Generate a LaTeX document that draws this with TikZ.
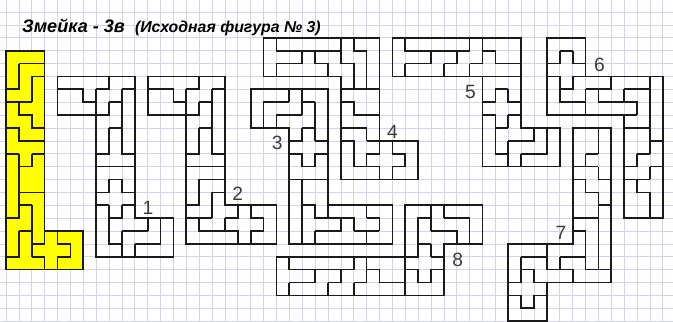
\documentclass[tikz,border=0pt]{standalone}
\usepackage{fontspec}
\setmainfont{Liberation Sans}
\usepackage{xcolor}
\usepackage{tikz}
\definecolor{gridc}{HTML}{D4D4E2}
\definecolor{snakeYellow}{HTML}{FFFF00}
\definecolor{ink}{HTML}{1A1A1A}

\begin{document}
\begin{tikzpicture}[x=4mm,y=-4mm,
  gridline/.style={gridc,line width=0.6pt},
  figline/.style={ink,line width=1.5pt,line join=miter},
  numlabel/.style={text=ink!85,font=\fontsize{17}{17}\selectfont,inner sep=0pt}]
% paper
\useasboundingbox[fill=white] (-0.466,-3.936) rectangle (51.79,21.06);
\foreach \i in {0,...,51} \draw[gridline] (\i,-3.936) -- (\i,21.06);
\foreach \j in {-3,...,21} \draw[gridline] (-0.466,\j) -- (51.79,\j);
% title
\node[anchor=base west,inner sep=0pt,font=\bfseries\itshape\fontsize{16}{16}\selectfont] (title) at (1.24,-1.41) {Змейка - 3в};
\node[anchor=base west,inner sep=0pt,font=\bfseries\itshape\fontsize{14}{14}\selectfont] (subtitle) at (10.0,-1.41) {(Исходная фигура № 3)};
% source figure
\draw[figline,fill=snakeYellow] (0,0) -- (3,0) -- (3,14) -- (6,14) -- (6,17) -- (0,17) -- cycle;
\draw[figline] (1,1) -- (3,1) (1,1) -- (1,3) -- (0,3) (2,2) -- (3,2) (2,2) -- (2,4) (0,4) -- (2,4)
  (1,4) -- (1,5) -- (2,5) -- (2,6) -- (3,6) (0,6) -- (1,6) -- (1,7) -- (3,7)
  (0,8) -- (1,8) (2,8) -- (3,8) (2,8) -- (2,9) -- (1,9) (1,8) -- (1,13) -- (0,13)
  (1,11) -- (3,11) (1,12) -- (2,12) (2,12) -- (2,16) (1,14) -- (2,14) (1,14) -- (1,16) -- (0,16)
  (3,14) -- (3,15) -- (2,15) (2,16) -- (3,16) -- (3,17) (4,14) -- (4,15) -- (5,15) -- (5,16) -- (4,16) -- (4,17);
% figure 1
\draw[figline] (4,2) -- (10,2) -- (10,13) -- (13,13) -- (13,16) -- (7,16) -- (7,5) -- (4,5) -- cycle;
\draw[figline] (4,3) -- (6,3) -- (6,4) -- (7,4) (7,3) -- (7,5) (7,3) -- (8,3) -- (8,2)
  (9,3) -- (10,3) (9,3) -- (9,8) -- (10,8) (8,4) -- (9,4) (8,4) -- (8,5) -- (7,5)
  (8,6) -- (9,6) (8,6) -- (8,8) -- (7,8) (7,9) -- (10,9)
  (8,10) -- (9,10) (8,10) -- (8,11) -- (7,11) (9,10) -- (9,11) -- (10,11)
  (7,12) -- (8,12) (9,12) -- (10,12) (8,12) -- (8,15) -- (9,15) (9,12) -- (9,13) -- (8,13)
  (9,14) -- (11,14) (11,13) -- (11,14) (9,14) -- (9,16) (10,15) -- (12,15) (10,15) -- (10,16) (12,13) -- (12,15);
% figure 2
\draw[figline] (11,2) -- (17,2) -- (17,12) -- (21,12) -- (21,15) -- (14,15) -- (14,5) -- (11,5) -- cycle;
\draw[figline] (11,3) -- (13,3) -- (13,4) -- (14,4) (14,3) -- (14,5) (14,3) -- (15,3) -- (15,2)
  (16,3) -- (17,3) (16,3) -- (16,8) -- (17,8) (15,4) -- (16,4) (15,4) -- (15,5) -- (14,5)
  (15,6) -- (16,6) (15,6) -- (15,8) -- (14,8) (14,9) -- (17,9)
  (15,10) -- (17,10) (15,10) -- (15,12) -- (14,12)
  (16,11) -- (17,11) (16,11) -- (16,13) (14,13) -- (16,13)
  (15,13) -- (15,14) -- (18,14) -- (18,15) (17,13) -- (17,14) (17,13) -- (18,13) -- (18,12)
  (19,12) -- (19,13) -- (20,13) -- (20,14) -- (19,14) -- (19,15);
% figure 3
\draw[figline] (19,3) -- (25,3) -- (25,12) -- (30,12) -- (30,15) -- (22,15) -- (22,6) -- (19,6) -- cycle;
\draw[figline] (20,6) -- (20,4) -- (22,4) (22,3) -- (22,4) (23,3) -- (23,5) (21,6) -- (21,5) -- (23,5)
  (23,4) -- (24,4) (24,4) -- (24,7) (23,6) -- (24,6) (23,6) -- (23,7) -- (22,7) (24,7) -- (25,7)
  (22,8) -- (23,8) -- (23,9) -- (24,9) -- (24,8) -- (25,8) (22,10) -- (25,10)
  (23,10) -- (23,15) (23,12) -- (24,12) -- (24,13) -- (27,13) -- (27,14) (28,13) -- (29,13) -- (29,14)
  (25,12) -- (25,13) (24,14) -- (26,14) -- (26,13) (27,14) -- (29,14) (28,12) -- (28,13)
  (28,14) -- (28,15) (24,14) -- (24,15);
% figure 4
\draw[figline] (20,-1) -- (29,-1) -- (29,7) -- (32,7) -- (32,10) -- (26,10) -- (26,2) -- (20,2) -- cycle;
\draw[figline] (21,-1) -- (21,0) -- (26,0) -- (26,-1) (21,1) -- (21,2) (21,1) -- (23,1) (23,0) -- (23,1)
  (24,0) -- (24,1) -- (25,1) -- (25,2) (26,0) -- (26,1) -- (27,1) -- (27,3)
  (27,-1) -- (27,0) -- (28,0) -- (28,3) (26,3) -- (29,3) (26,4) -- (27,4) -- (27,5) -- (29,5)
  (26,6) -- (28,6) -- (28,7) (26,7) -- (27,7) -- (27,9) -- (29,9) -- (29,10) (28,7) -- (29,7) -- (29,8) -- (28,8) -- (28,9)
  (30,7) -- (30,8) -- (31,8) -- (31,9) -- (30,9) -- (30,10);
% figure 5
\draw[figline] (30,-1) -- (40,-1) -- (40,6) -- (43,6) -- (43,9) -- (37,9) -- (37,2) -- (30,2) -- cycle;
\draw[figline] (31,-1) -- (31,0) -- (36,0) -- (36,-1) (31,1) -- (31,2) (31,1) -- (33,1) (33,0) -- (33,1)
  (34,1) -- (34,2) (34,1) -- (35,1) (35,0) -- (35,1) (36,1) -- (36,2) (36,1) -- (37,1) (37,-1) -- (37,1)
  (37,0) -- (38,0) -- (38,1) -- (40,1) (37,2) -- (40,2)
  (38,3) -- (39,3) (38,3) -- (38,4) -- (37,4) (39,3) -- (39,4) -- (40,4)
  (37,5) -- (38,5) -- (38,6) -- (39,6) (39,5) -- (39,6) (39,5) -- (40,5)
  (38,6) -- (38,8) -- (39,8) (39,7) -- (39,9) (39,7) -- (41,7) -- (41,6) (40,8) -- (40,9)
  (40,8) -- (42,8) -- (42,6);
% figure 6
\draw[figline] (42,-1) -- (45,-1) -- (45,2) -- (51,2) -- (51,13) -- (48,13) -- (48,5) -- (42,5) -- cycle;
\draw[figline] (43,0) -- (44,0) (43,0) -- (43,1) -- (42,1) (44,0) -- (44,1) -- (45,1)
  (42,2) -- (43,2) -- (43,4) -- (45,4) -- (45,5) (44,2) -- (45,2) (44,2) -- (44,3) -- (43,3)
  (45,3) -- (47,3) -- (47,2) (45,3) -- (45,4) (46,3) -- (46,4) (46,4) -- (49,4) -- (49,5)
  (48,3) -- (48,4) (48,3) -- (50,3) (50,2) -- (50,8) (50,7) -- (51,7) (48,5) -- (49,5) (48,6) -- (50,6)
  (49,8) -- (50,8) (49,8) -- (49,9) -- (48,9) (50,9) -- (51,9) (50,9) -- (50,10) (48,10) -- (50,10)
  (49,10) -- (49,11) -- (50,11) (50,11) -- (50,13);
% figure 7
\draw[figline] (44,6) -- (47,6) -- (47,18) -- (42,18) -- (42,21) -- (39,21) -- (39,15) -- (44,15) -- cycle;
\draw[figline] (40,16) -- (40,18) -- (39,18) (40,16) -- (42,16) -- (42,15) (40,17) -- (41,17) -- (41,18) -- (42,18)
  (39,19) -- (40,19) -- (40,20) -- (41,20) -- (41,19) -- (42,19)
  (42,16) -- (42,17) -- (44,17) -- (44,18) (43,16) -- (43,17) (43,16) -- (45,16)
  (45,14) -- (45,17) (44,14) -- (45,14) (45,17) -- (47,17) (46,11) -- (46,17) (46,12) -- (47,12)
  (44,13) -- (46,13) (45,10) -- (45,11) -- (46,11) (44,10) -- (45,10)
  (46,9) -- (46,10) -- (47,10) (44,9) -- (46,9) (45,8) -- (45,9) (45,8) -- (46,8) (46,6) -- (46,8);
% figure 8
\draw[figline] (21,16) -- (31,16) -- (31,12) -- (37,12) -- (37,15) -- (34,15) -- (34,19) -- (21,19) -- cycle;
\draw[figline] (22,16) -- (22,17) -- (27,17) -- (27,16) (22,18) -- (22,19) (22,18) -- (24,18) (24,17) -- (24,18)
  (25,18) -- (25,19) (25,18) -- (26,18) (26,17) -- (26,18) (27,18) -- (27,19) (27,18) -- (28,18)
  (28,16) -- (28,18) (28,17) -- (29,17) -- (29,18) -- (31,18) (31,16) -- (31,19)
  (32,18) -- (33,18) (32,18) -- (32,17) -- (31,17) (33,18) -- (33,17) -- (34,17)
  (31,16) -- (32,16) -- (32,15) -- (33,15) (33,16) -- (33,15) (33,16) -- (34,16)
  (32,15) -- (32,13) -- (33,13) (33,14) -- (33,12) (33,14) -- (35,14) -- (35,15)
  (34,13) -- (34,12) (34,13) -- (36,13) -- (36,15);
% numbers
\node[numlabel] (n1) at (11.02,12.22) {1};
\node[numlabel] (n2) at (18.0,11.1) {2};
\node[numlabel] (n3) at (21.06,7.19) {3};
\node[numlabel] (n4) at (30.0,6.31) {4};
\node[numlabel] (n5) at (36.06,3.18) {5};
\node[numlabel] (n6) at (46.08,1.11) {6};
\node[numlabel] (n7) at (43.09,14.15) {7};
\node[numlabel] (n8) at (35.08,16.27) {8};
\end{tikzpicture}
\end{document}
